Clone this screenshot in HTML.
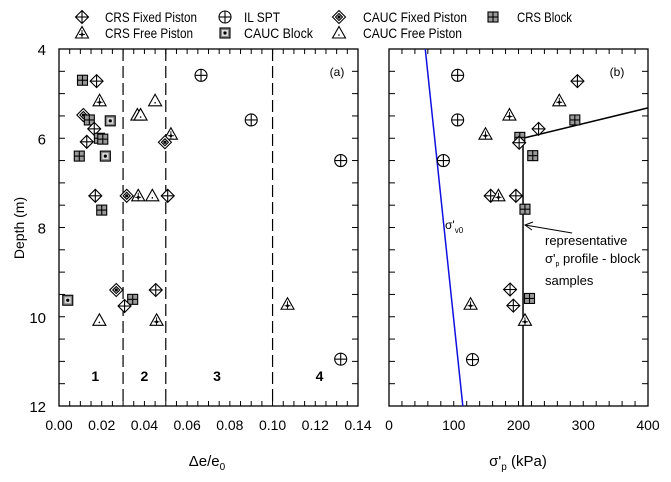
<!DOCTYPE html>
<html><head><meta charset="utf-8"><style>
body{margin:0;background:#fff;}
svg{display:block;font-family:"Liberation Sans",sans-serif;}
</style></head><body>
<svg id="chart" width="671" height="482" viewBox="0 0 671 482">
<g id="legend"></g>
<g id="pa"></g>
<g id="pb"></g>
</svg>
<script>
const aTypes = ["crsb","crsf","crsfree","caucfree","il","caucf","crsb","caucb","caucfree","caucfree","il","crsf","crsfree","crsb","crsb","caucf","crsf","crsb","caucb","il","crsf","caucf","crsfree","caucfree","crsf","crsb","caucb","caucf","crsb","crsf","crsf","caucfree","crsfree","crsfree","il"];
const aX = [0.011,0.0176,0.019,0.045,0.0665,0.0114,0.0142,0.024,0.0367,0.0382,0.090,0.0165,0.0524,0.0189,0.0205,0.0496,0.013,0.0095,0.0217,0.1319,0.017,0.0317,0.0371,0.0437,0.0509,0.020,0.0041,0.0268,0.0345,0.0307,0.0453,0.0189,0.0457,0.107,0.1319];
const aDepth = [4.70,4.72,5.16,5.16,4.59,5.48,5.59,5.61,5.48,5.48,5.59,5.79,5.91,6.0,6.02,6.09,6.08,6.40,6.40,6.50,7.29,7.29,7.29,7.29,7.29,7.61,9.63,9.40,9.61,9.76,9.40,10.08,10.08,9.72,10.95];
const bTypes = ["il","crsf","crsfree","crsfree","il","crsb","crsf","crsfree","crsb","crsf","crsb","il","crsf","crsfree","crsf","crsb","crsf","crsb","crsfree","crsf","crsfree","il"];
const bX = [106,291,263,186,106,287,231,149,202,201,222,84,157,169,196,210,187,217,126,192,210,129];
const bDepth = [4.59,4.72,5.16,5.48,5.59,5.59,5.79,5.91,5.98,6.10,6.39,6.50,7.29,7.29,7.29,7.59,9.39,9.59,9.72,9.75,10.08,10.96];
const sigmaV0 = [56,114];
const profileV = 207;
const profileTop = [[207,6.0],[400,5.32]];
const zoneBounds = [0.03,0.05,0.1];
const zoneLabels = ["1","2","3","4"];
const zoneLabelX = [0.017,0.04,0.074,0.122];
const aTicks = [0,0.02,0.04,0.06,0.08,0.1,0.12,0.14];
const aTickLabels = ["0.00","0.02","0.04","0.06","0.08","0.10","0.12","0.14"];
const bTicks = [0,100,200,300,400];
const yTicks = [4,6,8,10,12];
const legendTypes = ["crsf","il","caucf","crsb","crsfree","caucb","caucfree"];
const legendLabels = ["CRS Fixed Piston","IL SPT","CAUC Fixed Piston","CRS Block","CRS Free Piston","CAUC Block","CAUC Free Piston"];

const NS="http://www.w3.org/2000/svg";
const T=49,B=406;
const ay=d=>T+(d-4)*(B-T)/8;
const axA=v=>59+v*(358-59)/0.14;
const axB=v=>389+v*(648-389)/400;
function el(tag,attrs,parent,txt){const e=document.createElementNS(NS,tag);for(const k in attrs)e.setAttribute(k,attrs[k]);if(txt!==undefined)e.textContent=txt;parent.appendChild(e);return e;}
function marker(type,x,y,parent){
  const g=el('g',{},parent);
  
  
  const s={stroke:'#000','stroke-width':1.1,fill:'none'};
  if(type==='crsf'||type==='caucf'){
    el('polygon',Object.assign({},s,{points:`${x},${y-6.5} ${x+6.5},${y} ${x},${y+6.5} ${x-6.5},${y}`,fill:'#fff'}),g);
    if(type==='crsf'){el('line',Object.assign({},s,{x1:x-6.5,y1:y,x2:x+6.5,y2:y}),g);el('line',Object.assign({},s,{x1:x,y1:y-6.5,x2:x,y2:y+6.5}),g);}
    else{el('polygon',Object.assign({},s,{points:`${x},${y-3.5} ${x+3.5},${y} ${x},${y+3.5} ${x-3.5},${y}`}),g);el('circle',{cx:x,cy:y,r:1.6,fill:'#000'},g);}
  } else if(type==='il'){
    el('circle',Object.assign({},s,{cx:x,cy:y,r:6,fill:'#fff'}),g);
    el('line',Object.assign({},s,{x1:x-6,y1:y,x2:x+6,y2:y}),g);el('line',Object.assign({},s,{x1:x,y1:y-6,x2:x,y2:y+6}),g);
  } else if(type==='crsb'){
    el('rect',Object.assign({},s,{x:x-5,y:y-5,width:10,height:10,fill:'#999'}),g);
    el('line',Object.assign({},s,{x1:x-5,y1:y,x2:x+5,y2:y}),g);el('line',Object.assign({},s,{x1:x,y1:y-5,x2:x,y2:y+5}),g);
  } else if(type==='caucb'){
    el('rect',Object.assign({},s,{x:x-5,y:y-5,width:10,height:10,fill:'#888'}),g);
    el('rect',{x:x-3,y:y-3,width:6,height:6,fill:'#ddd'},g);
    el('circle',{cx:x,cy:y,r:1.6,fill:'#000'},g);
  } else if(type==='crsfree'||type==='caucfree'){
    el('polygon',Object.assign({},s,{points:`${x},${y-6.5} ${x+6.5},${y+5} ${x-6.5},${y+5}`,fill:'#fff'}),g);
    if(type==='crsfree'){el('line',{x1:x,y1:y-3,x2:x,y2:y+5,stroke:'#000','stroke-width':0.9},g);el('line',{x1:x-3,y1:y+1.5,x2:x+3,y2:y+1.5,stroke:'#000','stroke-width':0.9},g);el('circle',{cx:x,cy:y+1.5,r:1.4,fill:'#000'},g);}
    else el('circle',{cx:x,cy:y+2,r:0.8,fill:'#000'},g);
  }
}
function frame(g,L,R,sx,minorStep,max){
  el('rect',{x:L,y:T,width:R-L,height:B-T,fill:'none',stroke:'#000','stroke-width':1.3},g);
  for(let v=0;v<=max+1e-9;v+=minorStep){const x=sx(v);el('line',{x1:x,y1:B,x2:x,y2:B-5,stroke:'#000'},g);el('line',{x1:x,y1:T,x2:x,y2:T+5,stroke:'#000'},g);}
  for(let d=4;d<=12;d+=0.5){const y=ay(d);el('line',{x1:L,y1:y,x2:L+6,y2:y,stroke:'#000'},g);el('line',{x1:R,y1:y,x2:R-6,y2:y,stroke:'#000'},g);}
}
const lg=document.getElementById('legend');
const lx=[82,225,339,493,82,225,339],ltx=[105,244,363,517,105,244,363],ly=[17,17,17,17,33,33,33],lw=[92,36,104,55,88,69,99];
legendTypes.forEach((t,i)=>{marker(t,lx[i],ly[i],lg);const tx=el('text',{x:ltx[i],y:ly[i]+5,'font-size':14,textLength:lw[i],lengthAdjust:'spacingAndGlyphs'},lg,legendLabels[i]);

});
const pa=document.getElementById('pa');
frame(pa,59,358,axA,0.005,0.14);
zoneBounds.forEach(v=>{const l=el('line',{x1:axA(v),y1:T,x2:axA(v),y2:B,stroke:'#000','stroke-width':1.2,'stroke-dasharray':'12,5'},pa);

});
zoneLabels.forEach((z,i)=>el('text',{x:axA(zoneLabelX[i]),y:381,'font-size':14,'font-weight':'bold','text-anchor':'middle'},pa,z));
aTicks.forEach((v,i)=>el('text',{x:axA(v),y:430,'font-size':14,'text-anchor':'middle'},pa,aTickLabels[i]));
yTicks.forEach(d=>el('text',{x:46,y:ay(d)+6,'font-size':15,'text-anchor':'end'},pa,String(d)));
el('text',{x:337,y:76,'font-size':12,'text-anchor':'middle'},pa,'(a)');
const ttl=el('text',{x:0,y:0,'font-size':14,'text-anchor':'middle',transform:'translate(24,228) rotate(-90)'},pa,'Depth (m)');


const xa=el('text',{x:207,y:466,'font-size':15,'text-anchor':'middle'},pa);
xa.innerHTML=`Δe/e<tspan font-size="10" dy="4">0</tspan>`;


aTypes.forEach((t,i)=>marker(t,axA(aX[i]),ay(aDepth[i]),pa));
const pb=document.getElementById('pb');
frame(pb,389,648,axB,20,400);
bTicks.forEach(v=>el('text',{x:axB(v),y:430,'font-size':14,'text-anchor':'middle'},pb,String(v)));
el('text',{x:617,y:76,'font-size':12,'text-anchor':'middle'},pb,'(b)');
const bl=el('line',{x1:axB(sigmaV0[0]),y1:ay(4),x2:axB(sigmaV0[1]),y2:ay(12),stroke:'#1010e0','stroke-width':1.5},pb);


const pl=el('polyline',{points:`${axB(profileV)},${ay(12)} ${axB(profileTop[0][0])},${ay(profileTop[0][1])} ${axB(profileTop[1][0])},${ay(profileTop[1][1])}`,fill:'none',stroke:'#000','stroke-width':1.5},pb);


bTypes.forEach((t,i)=>marker(t,axB(bX[i]),ay(bDepth[i]),pb));
el('line',{x1:572,y1:233,x2:525,y2:225,stroke:'#000'},pb);
el('polyline',{points:'533,222 525,225 532,230',fill:'none',stroke:'#000'},pb);
const sv=el('text',{x:445,y:229,'font-size':12},pb);
sv.innerHTML=`σ'<tspan font-size="8" dy="4">v0</tspan>`;
el('text',{x:545,y:245,'font-size':13},pb,'representative');
const s2=el('text',{x:545,y:263,'font-size':13},pb);
s2.innerHTML=`σ'<tspan font-size="7" dy="3">p</tspan><tspan dy="-3"> profile - block</tspan>`;
el('text',{x:545,y:285,'font-size':13},pb,'samples');
const xb=el('text',{x:518,y:466,'font-size':15,'text-anchor':'middle'},pb);
xb.innerHTML=`σ'<tspan font-size="10" dy="4">p</tspan><tspan dy="-4"> (kPa)</tspan>`;


</script>
</body></html>
